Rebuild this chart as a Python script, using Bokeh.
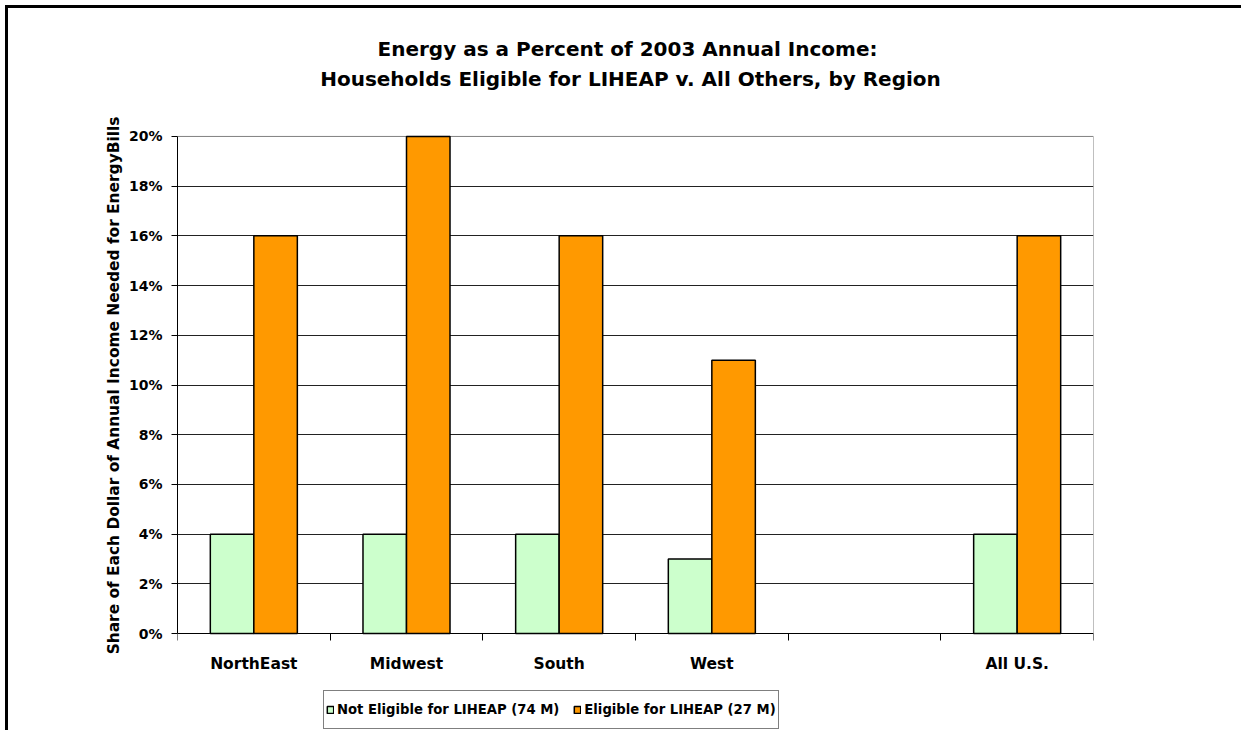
from bokeh.plotting import figure
from bokeh.models import (ColumnDataSource, FixedTicker, PrintfTickFormatter, Legend,
                          LegendItem, Range1d, Label)
from bokeh.transform import dodge
from bokeh.embed import file_html
from bokeh.resources import INLINE

# ---- data ----
title_lines = ["Energy as a Percent of 2003 Annual Income:",
               "Households Eligible for LIHEAP v. All Others, by Region"]
regions = ["NorthEast", "Midwest", "South", "West", "", "All U.S."]
not_eligible = [4, 4, 4, 3, None, 4]
eligible = [16, 20, 16, 11, None, 16]
series_names = ["Not Eligible for LIHEAP (74 M)", "Eligible for LIHEAP (27 M)"]
y_ticks = [0, 2, 4, 6, 8, 10, 12, 14, 16, 18, 20]
y_label = "Share of Each Dollar of Annual Income Needed for EnergyBills"

FONT = "DejaVu Sans"

idx = [i for i, v in enumerate(not_eligible) if v is not None]
src = ColumnDataSource(dict(
    pos=[i + 0.5 for i in idx],
    ne=[not_eligible[i] for i in idx],
    el=[eligible[i] for i in idx],
))

n_cat = len(regions)
y_top = y_ticks[-1]

# the frame extends above and below the value area so that it also holds the
# titles, the category labels and the legend
p = figure(width=1236, height=725,
           x_range=Range1d(0, n_cat), y_range=Range1d(-3.9, 23.86),
           output_backend="svg", toolbar_location=None,
           min_border_left=172, min_border_right=148,
           min_border_top=35, min_border_bottom=0)
p.title.visible = False
p.border_fill_color = None
p.background_fill_color = "white"
p.outline_line_color = None
p.styles = {"box-shadow": "inset 3px 3px 0 0 black",
            "margin-left": "5px", "margin-top": "5px"}

# titles (screen units from the frame's bottom-left corner)
for text, sx, sy in [(title_lines[0], 450, 682), (title_lines[1], 453, 652)]:
    p.add_layout(Label(x=sx, y=sy, x_units="screen", y_units="screen", text=text,
                       text_align="center", text_baseline="alphabetic",
                       text_font=FONT, text_font_style="bold",
                       text_font_size="20px", text_color="black"))

# plot-area frame (gray top and right edges)
p.segment(x0=[0, n_cat], y0=[y_top, 0], x1=[n_cat, n_cat], y1=[y_top, y_top],
          line_color="#808080", line_width=1)

# grid
p.xgrid.visible = False
p.ygrid.ticker = FixedTicker(ticks=y_ticks[1:-1])
p.ygrid.grid_line_color = "#222222"
p.ygrid.grid_line_width = 1

# bars
bw = 0.285
r1 = p.vbar(x=dodge("pos", -bw / 2, range=p.x_range), top="ne", width=bw, source=src,
            fill_color="#CCFFCC", line_color="black", line_width=1.5)
r2 = p.vbar(x=dodge("pos", bw / 2, range=p.x_range), top="el", width=bw, source=src,
            fill_color="#FF9900", line_color="black", line_width=1.5)

# x axis, drawn at y = 0
xa = p.xaxis[0]
xa.fixed_location = 0
xa.ticker = FixedTicker(ticks=[i + 0.5 for i in range(n_cat)],
                        minor_ticks=list(range(n_cat + 1)))
xa.major_label_overrides = {i + 0.5: r for i, r in enumerate(regions)}
xa.major_tick_out = 0
xa.major_tick_in = 0
xa.minor_tick_out = 7
xa.minor_tick_in = 0
xa.minor_tick_line_color = "black"
xa.axis_line_color = "black"
xa.major_label_standoff = 14
xa.major_label_text_font = FONT
xa.major_label_text_font_style = "bold"
xa.major_label_text_font_size = "15.5px"
xa.major_label_text_color = "black"

# y axis
ya = p.yaxis[0]
ya.bounds = (0, y_top)
ya.ticker = FixedTicker(ticks=y_ticks)
ya.formatter = PrintfTickFormatter(format="%d%%")
ya.major_tick_out = 6
ya.major_tick_in = 0
ya.minor_tick_line_color = None
ya.axis_line_color = "black"
ya.major_label_standoff = 9
ya.major_label_text_font = FONT
ya.major_label_text_font_style = "bold"
ya.major_label_text_font_size = "14px"
ya.major_label_text_color = "black"
ya.axis_label = y_label
ya.axis_label_standoff = 3
ya.axis_label_text_font = FONT
ya.axis_label_text_font_style = "bold"
ya.axis_label_text_font_size = "15.4px"
ya.axis_label_text_color = "black"

# legend
legend = Legend(items=[LegendItem(label=series_names[0], renderers=[r1]),
                       LegendItem(label=series_names[1], renderers=[r2])],
                orientation="horizontal", location=(146, 1))
legend.border_line_color = "black"
legend.border_line_width = 1
legend.background_fill_color = "white"
legend.background_fill_alpha = 1
legend.padding = 2
legend.margin = 0
legend.spacing = 14
legend.glyph_width = 8
legend.glyph_height = 9
legend.label_standoff = 3
legend.label_height = 33
legend.label_text_font = FONT
legend.label_text_font_style = "bold"
legend.label_text_font_size = "13.2px"
legend.label_text_color = "black"
p.add_layout(legend)

open("out.html", "w").write(file_html(p, INLINE))
